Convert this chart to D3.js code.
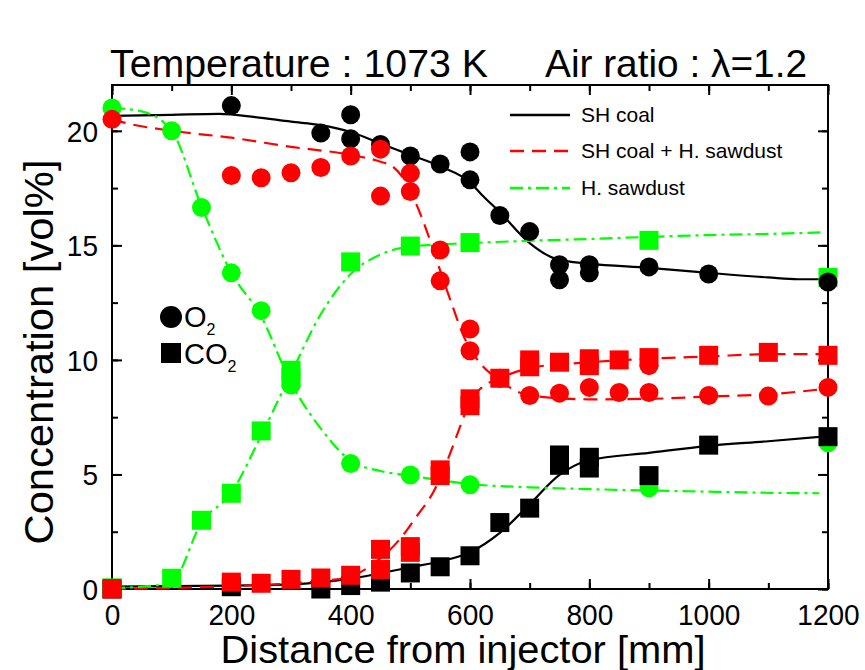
<!DOCTYPE html>
<html><head><meta charset="utf-8">
<script src="https://cdn.jsdelivr.net/npm/d3@7/dist/d3.min.js"></script>
<style>
html,body{margin:0;padding:0;background:#fff;}
svg text{font-family:"Liberation Sans",Arial,sans-serif;fill:#000;}
</style>
</head><body>
<svg id="chart" width="865" height="670"></svg>
<script>
// ---------- DATA ----------
const xTicks = [0, 200, 400, 600, 800, 1000, 1200];
const yTicks = [0, 5, 10, 15, 20];
const seriesNames = ["SH coal", "SH coal + H. sawdust", "H. sawdust"];
const seriesColors = ["#000000", "#ff0000", "#00ff00"];

// measured points [distance mm, vol%]
const coalO2 = [[200,21.1],[350,19.9],[400,20.7],[400,19.65],[450,19.4],[500,18.9],[550,18.55],[600,19.08],[600,17.86],[650,16.3],[700,15.6],[750,14.15],[750,13.5],[800,14.15],[800,13.8],[900,14.06],[1000,13.75],[1200,13.4]];
const coalCO2 = [[0,0],[200,0.1],[350,0],[400,0.15],[450,0.3],[500,0.7],[550,0.97],[600,1.45],[650,2.9],[700,3.53],[750,5.85],[750,5.4],[800,5.75],[800,5.28],[900,4.95],[1000,6.28],[1200,6.65]];
const mixO2 = [[0,20.5],[200,18.05],[250,17.95],[300,18.17],[350,18.4],[400,18.9],[450,19.2],[450,17.15],[500,18.15],[500,17.35],[550,14.8],[550,13.45],[600,11.35],[600,10.4],[650,9.2],[700,8.45],[750,8.55],[800,8.8],[850,8.58],[900,8.58],[900,9.75],[1000,8.45],[1100,8.42],[1200,8.8]];
const mixCO2 = [[0,0],[200,0.3],[250,0.25],[300,0.42],[350,0.48],[400,0.6],[450,1.73],[450,0.85],[500,1.85],[500,1.6],[550,5.2],[550,4.95],[600,8.3],[600,8.0],[650,9.2],[700,10.0],[700,9.7],[750,9.9],[800,10.05],[800,9.75],[850,10.0],[900,10.1],[1000,10.2],[1100,10.33],[1200,10.2]];
const sawO2 = [[0,21.0],[100,20.0],[150,16.65],[200,13.8],[250,12.15],[300,8.9],[400,5.48],[500,4.98],[600,4.55],[900,4.42],[1200,6.38]];
const sawCO2 = [[0,0.05],[100,0.47],[150,3.0],[200,4.18],[250,6.9],[300,9.55],[300,9.2],[400,14.28],[500,14.97],[600,15.12],[900,15.22],[1200,13.6]];

// fitted curves [distance mm, vol%]
const coalO2Fit = [[0,20.65],[100,20.7],[180,20.74],[240,20.6],[300,20.4],[350,20.25],[400,19.95],[450,19.45],[500,18.95],[550,18.45],[600,17.75],[620,17.2],[650,16.45],[700,15.1],[745,14.4],[800,14.2],[900,14.02],[1000,13.8],[1100,13.6],[1150,13.52],[1200,13.52]];
const coalCO2Fit = [[0,0.1],[200,0.15],[300,0.2],[400,0.45],[500,0.95],[550,1.2],[600,1.6],[650,2.45],[700,3.7],[750,4.98],[800,5.62],[900,5.94],[1000,6.25],[1100,6.45],[1200,6.67]];
const mixO2Fit = [[0,20.5],[30,20.3],[100,20.0],[200,19.7],[300,19.3],[400,18.95],[450,18.65],[470,18.45],[490,17.85],[510,16.8],[530,15.45],[550,13.9],[570,12.4],[590,11.0],[610,10.1],[650,9.1],[700,8.45],[800,8.28],[900,8.3],[1000,8.4],[1100,8.5],[1200,8.75]];
const mixCO2Fit = [[0,0],[100,0.05],[200,0.12],[300,0.25],[350,0.35],[400,0.55],[450,1.35],[480,2.1],[510,3.15],[540,4.3],[565,5.8],[585,7.2],[600,8.2],[620,8.8],[650,9.2],[700,9.65],[750,9.8],[800,9.9],[900,10.05],[1000,10.15],[1100,10.25],[1200,10.25]];
const sawO2Fit = [[0,21.0],[50,20.85],[100,20.0],[150,16.7],[200,13.8],[250,11.9],[300,9.0],[350,7.0],[400,5.6],[450,5.15],[500,4.95],[550,4.75],[600,4.58],[700,4.44],[800,4.36],[900,4.3],[1000,4.25],[1100,4.2],[1185,4.18]];
const sawCO2Fit = [[0,0.05],[50,0.1],[100,0.3],[150,2.9],[200,4.2],[250,6.7],[300,9.4],[350,12.0],[400,13.75],[450,14.6],[500,14.95],[600,15.1],[700,15.2],[800,15.28],[900,15.37],[1000,15.45],[1100,15.5],[1195,15.57]];

// ---------- LAYOUT ----------
const svg = d3.select("#chart");
const m = {left:112, right:828, top:85, bottom:589};
const x = d3.scaleLinear().domain([0,1200]).range([m.left, m.right]);
const y = d3.scaleLinear().domain([0,22]).range([m.bottom, m.top]);

// title
svg.append("text").attr("x",110).attr("y",77).attr("font-size",39)
  .attr("textLength",378).attr("lengthAdjust","spacingAndGlyphs")
  .text("Temperature : 1073 K");
svg.append("text").attr("x",545).attr("y",77).attr("font-size",39)
  .attr("textLength",262).attr("lengthAdjust","spacingAndGlyphs")
  .text("Air ratio : λ=1.2");

// frame
svg.append("rect").attr("x",m.left).attr("y",m.top)
  .attr("width",m.right-m.left).attr("height",m.bottom-m.top)
  .attr("fill","none").attr("stroke","#000").attr("stroke-width",2);

// axes with inward ticks
const xMinor = d3.range(0,1201,100);
const yMinor = d3.range(0,22.01,2.5);
const axB = d3.axisBottom(x).tickValues(xMinor).tickSize(-6).tickFormat("");
const axT = d3.axisTop(x).tickValues(xMinor).tickSize(-6).tickFormat("");
const axL = d3.axisLeft(y).tickValues(yMinor).tickSize(-6).tickFormat("");
const axR = d3.axisRight(y).tickValues(yMinor).tickSize(-6).tickFormat("");
const axBM = d3.axisBottom(x).tickValues(xTicks).tickSize(-10).tickPadding(15).tickFormat(d3.format("d"));
const axTM = d3.axisTop(x).tickValues(xTicks).tickSize(-10).tickFormat("");
const axLM = d3.axisLeft(y).tickValues(yTicks).tickSize(-10).tickPadding(14).tickFormat(d3.format("d"));
const axRM = d3.axisRight(y).tickValues(yTicks).tickSize(-10).tickFormat("");
function addAxis(ax, tr){
  const g = svg.append("g").attr("transform",tr).call(ax);
  g.select(".domain").remove();
  g.selectAll(".tick line").attr("stroke","#000").attr("stroke-width",2);
  g.selectAll(".tick text").attr("font-size",29).attr("font-family","Liberation Sans, Arial, sans-serif").attr("fill","#000")
    .attr("textLength",function(){ return this.textContent.length*15.6; })
    .attr("lengthAdjust","spacingAndGlyphs");
  return g;
}
addAxis(axB, `translate(0,${m.bottom})`);
addAxis(axT, `translate(0,${m.top})`);
addAxis(axL, `translate(${m.left},0)`);
addAxis(axR, `translate(${m.right},0)`);
addAxis(axBM, `translate(0,${m.bottom})`);
addAxis(axTM, `translate(0,${m.top})`);
const gy = addAxis(axLM, `translate(${m.left},0)`);
addAxis(axRM, `translate(${m.right},0)`);
gy.selectAll(".tick text").attr("dy","0.36em");

// axis titles
svg.append("text").attr("x",463).attr("y",663).attr("text-anchor","middle")
  .attr("font-size",39).attr("textLength",485).attr("lengthAdjust","spacingAndGlyphs")
  .text("Distance from injector [mm]");
svg.append("text").attr("transform","translate(53,352) rotate(-90)")
  .attr("text-anchor","middle").attr("font-size",40)
  .attr("textLength",385).attr("lengthAdjust","spacingAndGlyphs")
  .text("Concentration [vol%]");

// lines
const dashes = ["none","14,8","13,5,3,5"];
const line = d3.line().x(d=>x(d[0])).y(d=>y(d[1])).curve(d3.curveMonotoneX);
const fits = [
  [coalO2Fit,0],[coalCO2Fit,0],[mixO2Fit,1],[mixCO2Fit,1],[sawO2Fit,2],[sawCO2Fit,2]
];
const plot = svg.append("g");
fits.forEach(([pts,i])=>{
  plot.append("path").attr("d",line(pts)).attr("fill","none")
    .attr("stroke",seriesColors[i]).attr("stroke-width",2.2)
    .attr("stroke-dasharray",dashes[i]);
});

// markers (order: green, black, red)
const R = 9.5, S = 19;
function circles(data, col){
  plot.selectAll(null).data(data).enter().append("circle")
    .attr("cx",d=>x(d[0])).attr("cy",d=>y(d[1])).attr("r",R).attr("fill",col);
}
function squares(data, col){
  plot.selectAll(null).data(data).enter().append("rect")
    .attr("x",d=>x(d[0])-S/2).attr("y",d=>y(d[1])-S/2).attr("width",S).attr("height",S).attr("fill",col);
}
squares(sawCO2, seriesColors[2]); circles(sawO2, seriesColors[2]);
squares(coalCO2, seriesColors[0]); circles(coalO2, seriesColors[0]);
circles(mixO2, seriesColors[1]); squares(mixCO2, seriesColors[1]);

// line legend
const lg = svg.append("g");
seriesNames.forEach((n,i)=>{
  const yy = [115,151,188][i];
  lg.append("line").attr("x1",510).attr("x2",570).attr("y1",yy).attr("y2",yy)
    .attr("stroke",seriesColors[i]).attr("stroke-width",2.5).attr("stroke-dasharray",dashes[i]);
  lg.append("text").attr("x",581).attr("y",yy+7).attr("font-size",21).text(n);
});

// symbol legend
svg.append("circle").attr("cx",171).attr("cy",317).attr("r",11).attr("fill","#000");
const t1 = svg.append("text").attr("x",184).attr("y",327).attr("font-size",29);
t1.append("tspan").text("O");
t1.append("tspan").attr("font-size",16).attr("dy",8).text("2");
svg.append("rect").attr("x",161).attr("y",343).attr("width",20).attr("height",20).attr("fill","#000");
const t2 = svg.append("text").attr("x",184).attr("y",364).attr("font-size",29);
t2.append("tspan").text("CO");
t2.append("tspan").attr("font-size",16).attr("dy",8).text("2");
</script>
</body></html>
